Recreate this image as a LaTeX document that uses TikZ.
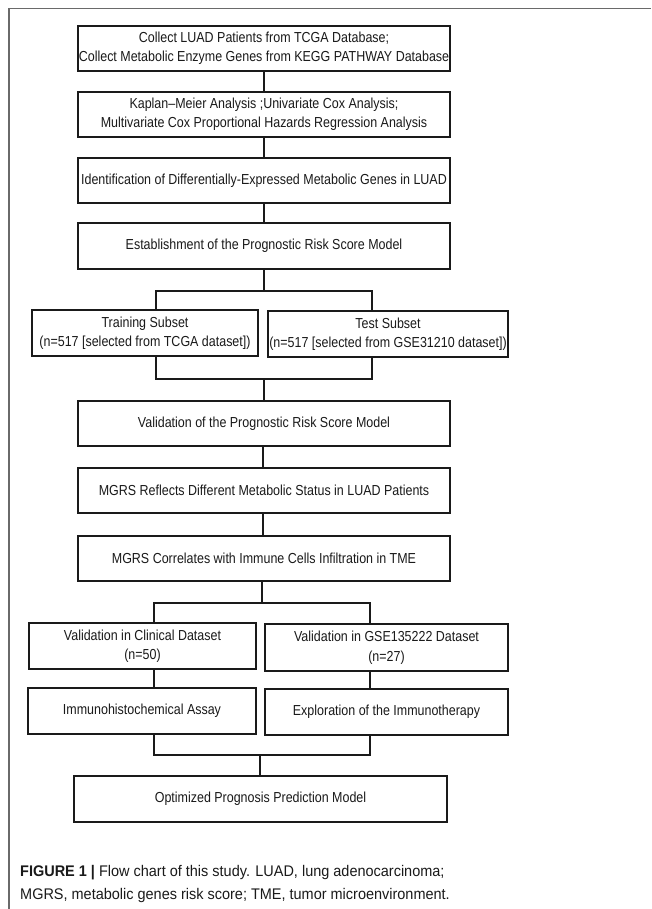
\documentclass[tikz,border=0pt]{standalone}
\usepackage{fontspec}
\setmainfont{Liberation Sans}
\newfontfamily\boxfont{Liberation Sans}[FakeStretch=0.86,Ligatures=TeX]
\newfontfamily\capfont{Liberation Sans}[FakeStretch=0.94,Ligatures=TeX]
\definecolor{framegray}{HTML}{6A6A6A}
\definecolor{inkc}{HTML}{1A1A1A}
\tikzset{
  fbox/.style={draw=inkc, line width=1.1pt, inner sep=0pt, align=center,
    text=inkc, font=\boxfont\fontsize{14.5}{19.5}\selectfont,
    minimum height=45pt},
  wide/.style={fbox, minimum width=372pt},
  conn/.style={draw=inkc, line width=1.1pt},
  captext/.style={anchor=base west, inner sep=0pt, text=inkc, font=\capfont\fontsize{15.4}{23}\selectfont},
}
\begin{document}
\begin{tikzpicture}[x=1pt,y=-1pt]
\useasboundingbox (0,0) rectangle (651,909);
\fill[white] (0,0) rectangle (651,909);
\draw[framegray, line width=1.6pt] (9,909) -- (9,8.5) -- (651,8.5);

\node[wide] (b1) at (264,48.5) {Collect LUAD Patients from TCGA Database;\\Collect Metabolic Enzyme Genes from KEGG PATHWAY Database};
\node[wide] (b2) at (264,114.5) {Kaplan–Meier Analysis ;Univariate Cox Analysis;\\Multivariate Cox Proportional Hazards Regression Analysis};
\node[wide] (b3) at (264,180.5) {Identification of Differentially-Expressed Metabolic Genes in LUAD};
\node[wide, minimum height=46pt] (b4) at (264,246) {Establishment of the Prognostic Risk Score Model};
\node[fbox, minimum width=226pt, minimum height=46pt] (train) at (145,333) {Training Subset\\(n=517 [selected from TCGA dataset])};
\node[fbox, minimum width=240pt, minimum height=46pt] (test) at (388,334) {Test Subset\\(n=517 [selected from GSE31210 dataset])};
\node[wide] (b5) at (264,423.5) {Validation of the Prognostic Risk Score Model};
\node[wide] (b6) at (264,490.5) {MGRS Reflects Different Metabolic Status in LUAD Patients};
\node[wide] (b7) at (264,558.5) {MGRS Correlates with Immune Cells Infiltration in TME};
\node[fbox, minimum width=227pt, minimum height=46pt] (clin) at (142.5,646) {Validation in Clinical Dataset\\(n=50)};
\node[fbox, minimum width=243pt, minimum height=47pt] (gse) at (386.5,647.5) {Validation in GSE135222 Dataset\\(n=27)};
\node[fbox, minimum width=228pt, minimum height=46pt] (immuno) at (142,711) {Immunohistochemical Assay};
\node[fbox, minimum width=243pt, minimum height=46pt] (explor) at (386.5,712) {Exploration of the Immunotherapy};
\node[fbox, minimum width=373pt, minimum height=46pt] (final) at (260.5,799) {Optimized Prognosis Prediction Model};

\draw[conn] (b1) -- (b2);
\draw[conn] (b2) -- (b3);
\draw[conn] (b3) -- (b4);

\coordinate (s1) at (264,291);
\coordinate (s1l) at (156,291);
\coordinate (s1r) at (372,291);
\draw[conn] (b4.south) -- (s1);
\draw[conn] (s1l |- train.north) -- (s1l) -- (s1r) -- (s1r |- test.north);
\coordinate (m1) at (264,379);
\coordinate (m1l) at (156,379);
\coordinate (m1r) at (372,379);
\draw[conn] (m1l |- train.south) -- (m1l) -- (m1r) -- (m1r |- test.south);
\draw[conn] (m1) -- (b5.north);

\coordinate (c5) at (263,0);
\draw[conn] (b5.south -| c5) -- (b6.north -| c5);
\draw[conn] (b6.south -| c5) -- (b7.north -| c5);

\coordinate (s2) at (262,603);
\coordinate (s2l) at (154,603);
\coordinate (s2r) at (370,603);
\draw[conn] (b7.south -| s2) -- (s2);
\draw[conn] (s2l |- clin.north) -- (s2l) -- (s2r) -- (s2r |- gse.north);
\draw[conn] (s2l |- clin.south) -- (s2l |- immuno.north);
\draw[conn] (s2r |- gse.south) -- (s2r |- explor.north);

\coordinate (m2) at (260,755);
\coordinate (m2l) at (154,755);
\coordinate (m2r) at (370,755);
\draw[conn] (m2l |- immuno.south) -- (m2l) -- (m2r) -- (m2r |- explor.south);
\draw[conn] (m2) -- (final.north -| m2);

\node[captext] (cap1) at (20,876) {\textbf{FIGURE 1 |} Flow chart of this study. LUAD, lung adenocarcinoma;};
\node[captext] (cap2) at (20,899) {MGRS, metabolic genes risk score; TME, tumor microenvironment.};
\end{tikzpicture}
\end{document}
